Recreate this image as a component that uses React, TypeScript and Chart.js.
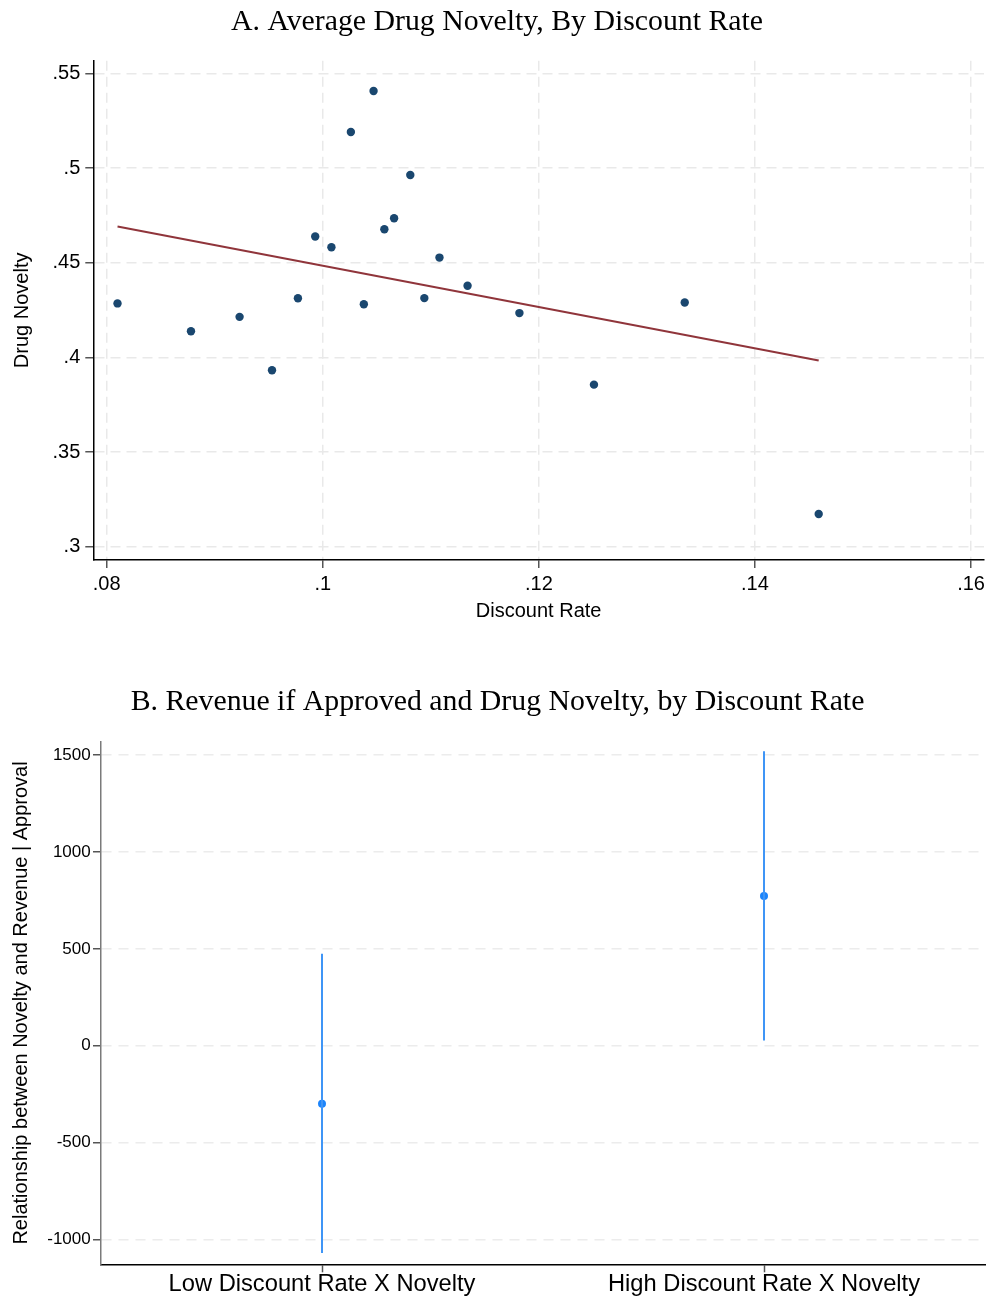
import React, { useEffect, useRef } from 'react';
import { Chart, registerables } from 'chart.js';

Chart.register(...registerables);

// ---------- Panel A data ----------
const discountRate = [
  0.0810, 0.0878, 0.0923, 0.0953, 0.0977, 0.0993, 0.1008, 0.1026, 0.1038, 0.1047,
  0.1057, 0.1066, 0.1081, 0.1094, 0.1108, 0.1134, 0.1182, 0.1251, 0.1335, 0.1459,
];
const drugNovelty = [
  0.4285, 0.4138, 0.4214, 0.3932, 0.4312, 0.4638, 0.4582, 0.5190, 0.4281, 0.5407,
  0.4677, 0.4735, 0.4963, 0.4313, 0.4527, 0.4378, 0.4234, 0.3856, 0.4290, 0.3173,
];
const fitX = [0.0810, 0.1459];
const fitY = [0.4691, 0.3983];
const rateTickValues = [0.08, 0.1, 0.12, 0.14, 0.16];
const rateTickLabels = ['.08', '.1', '.12', '.14', '.16'];
const noveltyTickValues = [0.3, 0.35, 0.4, 0.45, 0.5, 0.55];
const noveltyTickLabels = ['.3', '.35', '.4', '.45', '.5', '.55'];

// ---------- Panel B data ----------
const categories = ['Low Discount Rate X Novelty', 'High Discount Rate X Novelty'];
const coefficients = [-300, 773];
const ciLower = [-1071, 27];
const ciUpper = [475, 1520];
const coefTickValues = [-1000, -500, 0, 500, 1000, 1500];
const coefTickLabels = ['-1000', '-500', '0', '500', '1000', '1500'];

const SANS = '"Liberation Sans", Arial, Helvetica, sans-serif';
const SERIF = '"Liberation Serif", "Times New Roman", serif';

function ChartA() {
  const ref = useRef<HTMLCanvasElement | null>(null);
  useEffect(() => {
    if (!ref.current) return;
    const chart = new Chart(ref.current, {
      type: 'scatter',
      data: {
        datasets: [
          {
            label: 'Fitted values',
            data: fitX.map((x, i) => ({ x, y: fitY[i] })),
            showLine: true,
            borderColor: '#90353b',
            backgroundColor: '#90353b',
            borderWidth: 2,
            pointRadius: 0,
          },
          {
            label: 'Drug Novelty',
            data: discountRate.map((x, i) => ({ x, y: drugNovelty[i] })),
            pointRadius: 4.2,
            pointBorderWidth: 0,
            backgroundColor: '#1a476f',
            borderColor: '#1a476f',
          },
        ],
      },
      options: {
        responsive: false,
        animation: false,
        layout: { padding: { left: 10, right: 6, top: 0, bottom: 0 } },
        plugins: {
          legend: { display: false },
          tooltip: { enabled: false },
          title: {
            display: true,
            text: 'A. Average Drug Novelty, By Discount Rate',
            color: '#000',
            font: { family: SERIF, size: 29.8, weight: 'normal' },
            padding: { top: 4.2, bottom: 20.7 },
          },
        },
        scales: {
          x: {
            type: 'linear',
            min: 0.07876,
            max: 0.1612,
            afterBuildTicks: (s: any) => {
              s.ticks = rateTickValues.map((v) => ({ value: v }));
            },
            afterFit: (s: any) => {
              s.height = 85;
            },
            ticks: {
              callback: (_v: any, i: number) => rateTickLabels[i],
              color: '#000',
              font: { family: SANS, size: 20 },
              padding: 4,
              maxRotation: 0,
              autoSkip: false,
            },
            grid: {
              color: '#e9e9e9',
              lineWidth: 1.5,
              tickColor: '#555',
              tickWidth: 1.5,
              tickLength: 8,
            },
            border: { color: '#000', width: 1.5, dash: [10, 6] },
            title: {
              display: true,
              text: 'Discount Rate',
              color: '#000',
              font: { family: SANS, size: 20 },
              padding: { top: 0, bottom: 22 },
            },
          },
          y: {
            type: 'linear',
            min: 0.293,
            max: 0.5567,
            afterBuildTicks: (s: any) => {
              s.ticks = noveltyTickValues.map((v) => ({ value: v }));
            },
            afterFit: (s: any) => {
              s.width = 83.3;
            },
            ticks: {
              callback: (_v: any, i: number) => noveltyTickLabels[i],
              color: '#000',
              font: { family: SANS, size: 20 },
              padding: 5,
              autoSkip: false,
            },
            grid: {
              color: '#e9e9e9',
              lineWidth: 1.5,
              tickColor: '#555',
              tickWidth: 1.5,
              tickLength: 8,
            },
            border: { color: '#000', width: 1.5, dash: [10, 6] },
            title: {
              display: true,
              text: 'Drug Novelty',
              color: '#000',
              font: { family: SANS, size: 20 },
              padding: { top: 0, bottom: 0 },
            },
          },
        },
      },
    } as any);
    return () => chart.destroy();
  }, []);
  return <canvas ref={ref} width={990} height={645} style={{ display: 'block', width: 990, height: 645 }} />;
}

function ChartB() {
  const ref = useRef<HTMLCanvasElement | null>(null);
  useEffect(() => {
    if (!ref.current) return;
    const ciDatasets = categories.map((c, i) => ({
      label: c + ' CI',
      data: [
        { x: i, y: ciLower[i] },
        { x: i, y: ciUpper[i] },
      ],
      showLine: true,
      borderColor: '#3f95f6',
      backgroundColor: '#3f95f6',
      borderWidth: 2,
      pointRadius: 0,
    }));
    const chart = new Chart(ref.current, {
      type: 'scatter',
      data: {
        datasets: [
          ...ciDatasets,
          {
            label: 'Coefficient',
            data: coefficients.map((y, i) => ({ x: i, y })),
            pointRadius: 4,
            pointBorderWidth: 0,
            backgroundColor: '#1c84fb',
            borderColor: '#1c84fb',
          },
        ],
      },
      options: {
        responsive: false,
        animation: false,
        layout: { padding: { left: 10, right: 5, top: 0, bottom: 0 } },
        plugins: {
          legend: { display: false },
          tooltip: { enabled: false },
          title: {
            display: true,
            text: 'B. Revenue if Approved and Drug Novelty, by Discount Rate',
            color: '#000',
            font: { family: SERIF, size: 29.8, weight: 'normal' },
            padding: { top: 34.2, bottom: 21.7 },
          },
        },
        scales: {
          x: {
            type: 'linear',
            min: -0.5,
            max: 1.5,
            afterBuildTicks: (s: any) => {
              s.ticks = categories.map((_c, i) => ({ value: i }));
            },
            afterFit: (s: any) => {
              s.height = 32.7;
            },
            ticks: {
              callback: (_v: any, i: number) => categories[i],
              color: '#000',
              font: { family: SANS, size: 23.7, lineHeight: 1 },
              padding: 0,
              maxRotation: 0,
              autoSkip: false,
            },
            grid: {
              drawOnChartArea: false,
              color: '#555',
              tickColor: '#555',
              tickWidth: 1.5,
              tickLength: 8,
            },
            border: { color: '#000', width: 1.5 },
          },
          y: {
            type: 'linear',
            min: -1129,
            max: 1570,
            afterBuildTicks: (s: any) => {
              s.ticks = coefTickValues.map((v) => ({ value: v }));
            },
            afterFit: (s: any) => {
              s.width = 91;
            },
            ticks: {
              callback: (_v: any, i: number) => coefTickLabels[i],
              color: '#000',
              font: { family: SANS, size: 17 },
              padding: 2.3,
              autoSkip: false,
            },
            grid: {
              color: '#ececec',
              lineWidth: 1.5,
              tickColor: '#555',
              tickWidth: 1.5,
              tickLength: 8,
            },
            border: { color: '#7a7a7a', width: 1.5, dash: [10, 7] },
            title: {
              display: true,
              text: 'Relationship between Novelty and Revenue | Approval',
              color: '#000',
              font: { family: SANS, size: 20 },
              padding: { top: -1, bottom: 0 },
            },
          },
        },
      },
    } as any);
    return () => chart.destroy();
  }, []);
  return <canvas ref={ref} width={990} height={647} style={{ display: 'block', width: 990, height: 647 }} />;
}

export default function App() {
  return (
    <div style={{ position: 'absolute', left: 0, top: 0, width: 990, height: 1297, background: '#fff' }}>
      <div style={{ position: 'absolute', left: 0, top: 0 }}>
        <ChartA />
      </div>
      <div style={{ position: 'absolute', left: 0, top: 650 }}>
        <ChartB />
      </div>
    </div>
  );
}
